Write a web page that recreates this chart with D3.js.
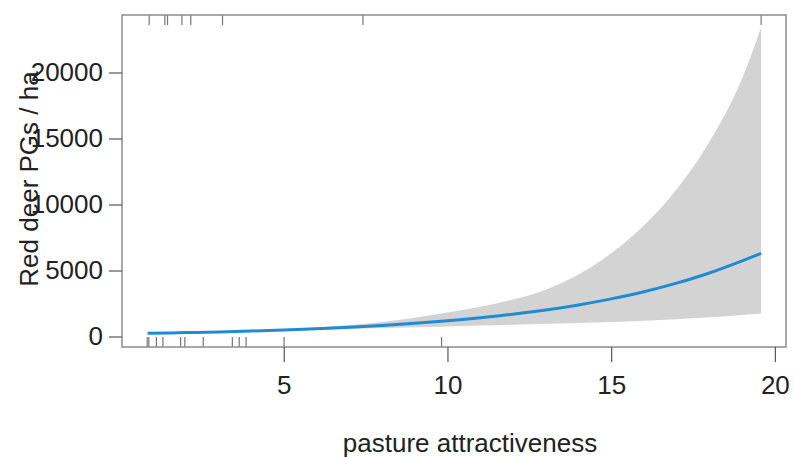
<!DOCTYPE html>
<html>
<head>
<meta charset="utf-8">
<script src="https://cdn.jsdelivr.net/npm/d3@7"></script>
<style>
    body { margin: 0; background: #fff; }
    text { font-family: "Liberation Sans", Arial, sans-serif; fill: #222; }
</style>
</head>
<body>
<svg id="chart" width="794" height="457"></svg>
<script>
// pasture attractiveness vs fitted red deer PGs / ha, with confidence band
const xValues = [0.84, 2, 3, 4, 5, 6, 7, 8, 9, 10, 11, 12, 13, 14, 15, 16, 17, 18, 19, 19.58];
const fitValues = [240, 295, 350, 415, 495, 590, 705, 840, 1000, 1190, 1415, 1690, 2010, 2390, 2850, 3390, 4040, 4810, 5730, 6300];
const upperValues = [275, 320, 380, 450, 550, 690, 870, 1100, 1420, 1820, 2250, 2800, 3550, 4700, 6300, 8400, 11150, 14750, 19550, 23400];
const lowerValues = [210, 270, 322, 380, 440, 505, 570, 635, 695, 760, 830, 900, 965, 1030, 1100, 1190, 1300, 1450, 1630, 1750];

// rug marks
const rugBottom = [0.83, 0.88, 1.11, 1.31, 1.85, 1.98, 2.54, 3.43, 3.64, 3.85, 5.01, 9.82];
const rugTop = [0.89, 1.37, 1.45, 1.89, 2.16, 3.13, 7.42, 19.58];

const xTicks = [5, 10, 15, 20];
const yTicks = [0, 5000, 10000, 15000, 20000];

const svg = d3.select('#chart');

const plotLeft = 122, plotRight = 786, plotTop = 15, plotBottom = 347;

const xScale = d3.scaleLinear()
    .domain([0.06, 20.34])
    .range([plotLeft, plotRight]);

const yScale = d3.scaleLinear()
    .domain([-795, 24356])
    .range([plotBottom, plotTop]);

const rows = xValues.map((x, i) => ({
    x: x,
    fit: fitValues[i],
    upper: upperValues[i],
    lower: lowerValues[i]
}));

// confidence band
const band = d3.area()
    .x(d => xScale(d.x))
    .y0(d => yScale(d.lower))
    .y1(d => yScale(d.upper))
    .curve(d3.curveMonotoneX);

svg.append('path')
    .datum(rows)
    .attr('d', band)
    .attr('fill', '#d3d3d3');

// fitted line
const line = d3.line()
    .x(d => xScale(d.x))
    .y(d => yScale(d.fit))
    .curve(d3.curveMonotoneX);

svg.append('path')
    .datum(rows)
    .attr('d', line)
    .attr('fill', 'none')
    .attr('stroke', '#1f8bd3')
    .attr('stroke-width', 3);

// rugs
svg.selectAll('.rug-bottom')
    .data(rugBottom)
    .enter()
    .append('line')
    .attr('class', 'rug-bottom')
    .attr('x1', d => xScale(d))
    .attr('x2', d => xScale(d))
    .attr('y1', plotBottom)
    .attr('y2', plotBottom - 10)
    .attr('stroke', '#777')
    .attr('stroke-width', 1.2);

svg.selectAll('.rug-top')
    .data(rugTop)
    .enter()
    .append('line')
    .attr('class', 'rug-top')
    .attr('x1', d => xScale(d))
    .attr('x2', d => xScale(d))
    .attr('y1', plotTop)
    .attr('y2', plotTop + 10)
    .attr('stroke', '#777')
    .attr('stroke-width', 1.2);

// box
svg.append('rect')
    .attr('x', plotLeft)
    .attr('y', plotTop)
    .attr('width', plotRight - plotLeft)
    .attr('height', plotBottom - plotTop)
    .attr('fill', 'none')
    .attr('stroke', '#8c8c8c')
    .attr('stroke-width', 1.5);

// x axis
const xAxis = svg.append('g')
    .attr('transform', `translate(0, ${plotBottom})`)
    .call(d3.axisBottom(xScale)
        .tickValues(xTicks)
        .tickSize(15)
        .tickPadding(14)
        .tickFormat(d3.format('d')));

xAxis.select('.domain').remove();
xAxis.selectAll('line').attr('stroke', '#555').attr('stroke-width', 1.2);
xAxis.selectAll('text')
    .attr('font-size', 26)
    .attr('font-family', null);

// y axis
const yAxis = svg.append('g')
    .attr('transform', `translate(${plotLeft}, 0)`)
    .call(d3.axisLeft(yScale)
        .tickValues(yTicks)
        .tickSize(13)
        .tickPadding(6)
        .tickFormat(d3.format('d')));

yAxis.select('.domain').remove();
yAxis.selectAll('line').attr('stroke', '#555').attr('stroke-width', 1.2);
yAxis.selectAll('text')
    .attr('font-size', 26)
    .attr('font-family', null);

// labels
svg.append('text')
    .attr('x', 470)
    .attr('y', 452)
    .attr('text-anchor', 'middle')
    .attr('font-size', 26)
    .text('pasture attractiveness');

svg.append('text')
    .attr('transform', `translate(38, ${(plotTop + plotBottom) / 2 - 2}) rotate(-90)`)
    .attr('text-anchor', 'middle')
    .attr('font-size', 26)
    .text('Red deer PGs / ha');
</script>
</body>
</html>
